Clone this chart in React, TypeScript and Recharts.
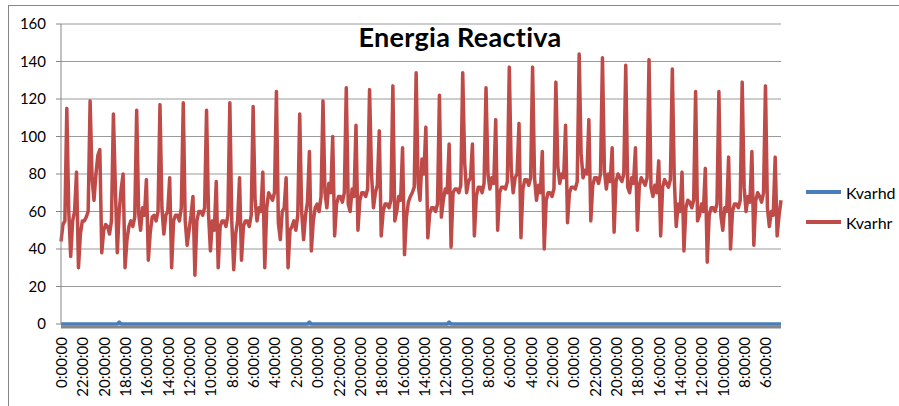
import { LineChart, Line, XAxis, YAxis, CartesianGrid } from "recharts";

// Kvarhd / Kvarhr, one value every 2 hours, one row per day
const kvarhr = [
  44, 53, 55, 115, 60, 36, 55, 60, 81, 30, 48, 55,
  55, 57, 60, 119, 78, 66, 80, 90, 93, 38, 50, 53,
  52, 48, 55, 112, 73, 38, 60, 72, 80, 30, 45, 52,
  55, 52, 57, 114, 59, 50, 62, 58, 77, 34, 49, 57,
  58, 55, 60, 117, 62, 48, 58, 60, 78, 30, 55, 58,
  58, 55, 62, 118, 55, 42, 50, 58, 68, 26, 55, 60,
  60, 58, 62, 114, 59, 39, 55, 50, 76, 30, 52, 55,
  55, 52, 58, 118, 55, 29, 48, 55, 78, 34, 52, 55,
  55, 52, 58, 116, 66, 55, 62, 60, 81, 30, 62, 70,
  68, 66, 70, 124, 54, 45, 60, 62, 78, 30, 50, 52,
  55, 50, 58, 112, 60, 45, 58, 65, 92, 39, 55, 62,
  64, 60, 68, 119, 70, 62, 75, 70, 100, 47, 64, 68,
  68, 65, 70, 126, 64, 60, 72, 68, 106, 50, 66, 70,
  70, 68, 72, 125, 80, 62, 70, 74, 103, 47, 60, 64,
  64, 62, 66, 127, 55, 60, 68, 66, 94, 37, 57, 65,
  68, 70, 73, 134, 75, 66, 88, 80, 105, 46, 59, 62,
  62, 60, 64, 122, 57, 66, 72, 70, 96, 41, 70, 72,
  72, 70, 74, 134, 86, 70, 76, 78, 96, 47, 68, 73,
  73, 70, 75, 126, 80, 72, 78, 75, 109, 50, 70, 73,
  73, 72, 76, 137, 82, 70, 78, 80, 107, 46, 72, 77,
  77, 74, 78, 137, 78, 66, 74, 70, 92, 40, 66, 70,
  70, 68, 72, 129, 84, 75, 80, 78, 106, 54, 70, 73,
  73, 72, 76, 144, 91, 78, 82, 80, 109, 55, 74, 78,
  78, 75, 80, 142, 82, 72, 80, 76, 94, 49, 76, 80,
  78, 76, 80, 138, 73, 70, 78, 75, 94, 50, 74, 78,
  76, 74, 78, 141, 73, 68, 74, 70, 87, 47, 73, 77,
  75, 73, 77, 136, 78, 52, 64, 60, 81, 39, 62, 66,
  65, 62, 66, 124, 55, 58, 64, 60, 83, 33, 58, 62,
  62, 60, 64, 124, 58, 50, 62, 60, 89, 40, 60, 64,
  64, 62, 66, 129, 73, 60, 68, 65, 92, 42, 66, 70,
  68, 65, 70, 127, 62, 52, 60, 58, 89, 47, 58, 66,
];

const kvarhd = [
  0, 0, 0, 0, 0, 0, 0, 0, 0, 0, 0, 0,
  0, 0, 0, 0, 0, 0, 0, 0, 0, 0, 0, 0,
  0, 0, 0, 0, 0, 0, 1, 0, 0, 0, 0, 0,
  0, 0, 0, 0, 0, 0, 0, 0, 0, 0, 0, 0,
  0, 0, 0, 0, 0, 0, 0, 0, 0, 0, 0, 0,
  0, 0, 0, 0, 0, 0, 0, 0, 0, 0, 0, 0,
  0, 0, 0, 0, 0, 0, 0, 0, 0, 0, 0, 0,
  0, 0, 0, 0, 0, 0, 0, 0, 0, 0, 0, 0,
  0, 0, 0, 0, 0, 0, 0, 0, 0, 0, 0, 0,
  0, 0, 0, 0, 0, 0, 0, 0, 0, 0, 0, 0,
  0, 0, 0, 0, 0, 0, 0, 0, 1, 0, 0, 0,
  0, 0, 0, 0, 0, 0, 0, 0, 0, 0, 0, 0,
  0, 0, 0, 0, 0, 0, 0, 0, 0, 0, 0, 0,
  0, 0, 0, 0, 0, 0, 0, 0, 0, 0, 0, 0,
  0, 0, 0, 0, 0, 0, 0, 0, 0, 0, 0, 0,
  0, 0, 0, 0, 0, 0, 0, 0, 0, 0, 0, 0,
  0, 0, 0, 0, 0, 0, 0, 0, 1, 0, 0, 0,
  0, 0, 0, 0, 0, 0, 0, 0, 0, 0, 0, 0,
  0, 0, 0, 0, 0, 0, 0, 0, 0, 0, 0, 0,
  0, 0, 0, 0, 0, 0, 0, 0, 0, 0, 0, 0,
  0, 0, 0, 0, 0, 0, 0, 0, 0, 0, 0, 0,
  0, 0, 0, 0, 0, 0, 0, 0, 0, 0, 0, 0,
  0, 0, 0, 0, 0, 0, 0, 0, 0, 0, 0, 0,
  0, 0, 0, 0, 0, 0, 0, 0, 0, 0, 0, 0,
  0, 0, 0, 0, 0, 0, 0, 0, 0, 0, 0, 0,
  0, 0, 0, 0, 0, 0, 0, 0, 0, 0, 0, 0,
  0, 0, 0, 0, 0, 0, 0, 0, 0, 0, 0, 0,
  0, 0, 0, 0, 0, 0, 0, 0, 0, 0, 0, 0,
  0, 0, 0, 0, 0, 0, 0, 0, 0, 0, 0, 0,
  0, 0, 0, 0, 0, 0, 0, 0, 0, 0, 0, 0,
  0, 0, 0, 0, 0, 0, 0, 0, 0, 0, 0, 0,
];

// time of each reading (2 h step starting at midnight)
const times = kvarhr.map((_, i) => `${(i * 2) % 24}:00:00`);
const yTicks = [0, 20, 40, 60, 80, 100, 120, 140, 160];
const seriesNames = ["Kvarhd", "Kvarhr"];
const seriesColors = ["#4A7EBB", "#BE4B48"];

const data = times.map((t, i) => ({ time: t, Kvarhd: kvarhd[i], Kvarhr: kvarhr[i] }));

const font = "Lato, 'Liberation Sans', sans-serif";

const XTick = (props: any) => {
  const { x, y, payload } = props;
  return (
    <text
      x={x}
      y={y}
      transform={`rotate(-90 ${x} ${y})`}
      textAnchor="end"
      dominantBaseline="central"
      fontSize={15}
      fontFamily={font}
      fill="#000"
    >
      {payload.value}
    </text>
  );
};

export default function App() {
  return (
    <div style={{ position: "absolute", left: 0, top: 0, width: 899, height: 406, overflow: "hidden", background: "#fff" }}>
      <div
        style={{
          position: "absolute",
          left: 8,
          top: 5,
          width: 920,
          height: 420,
          border: "1px solid #868686",
          boxSizing: "border-box",
        }}
      />
      <LineChart width={899} height={406} data={data} margin={{ top: 24, right: 118, bottom: 0, left: 10 }} style={{ position: "absolute", left: 0, top: 0 }}>
        <CartesianGrid vertical={false} stroke="#9a9a9a" />
        <XAxis
          dataKey="time"
          interval={10}
          height={82}
          tick={<XTick />}
          tickLine={false}
          tickSize={0}
          tickMargin={13}
          axisLine={{ stroke: "#868686", strokeWidth: 3, transform: "translate(0,3)" }}
        />
        <YAxis
          domain={[0, 160]}
          ticks={yTicks}
          width={51}
          tickSize={5}
          tickMargin={10}
          axisLine={{ stroke: "#868686" }}
          tickLine={{ stroke: "#868686" }}
          tick={{ fontSize: 15, fontFamily: font, fill: "#000" }}
        />
        {seriesNames.map((name, i) => (
          <Line
            key={name}
            type="linear"
            dataKey={name}
            stroke={seriesColors[i]}
            strokeWidth={3.5}
            strokeLinejoin="round"
            dot={false}
            isAnimationActive={false}
          />
        ))}
      </LineChart>
      <div
        style={{
          position: "absolute",
          left: 300,
          width: 320,
          top: 21,
          lineHeight: "32px",
          textAlign: "center",
          fontFamily: font,
          fontWeight: 700,
          fontSize: 27,
          letterSpacing: 0.3,
          color: "#000",
        }}
      >
        Energia Reactiva
      </div>
      <div style={{ position: "absolute", left: 806, top: 180, fontFamily: font, fontSize: 16, color: "#000" }}>
        {seriesNames.map((name, i) => (
          <div key={name} style={{ display: "flex", alignItems: "center", height: 24, marginBottom: 6 }}>
            <span style={{ display: "inline-block", width: 35, height: 4, background: seriesColors[i], marginRight: 5 }} />
            <span>{name}</span>
          </div>
        ))}
      </div>
    </div>
  );
}
